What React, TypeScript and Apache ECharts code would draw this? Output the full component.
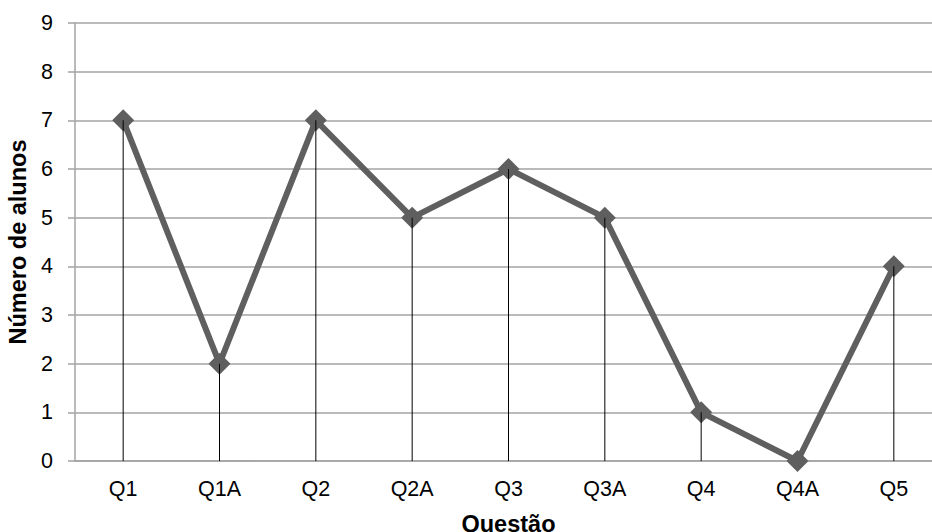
import React, { useEffect, useRef } from "react";
import * as echarts from "echarts";

const questions = ["Q1", "Q1A", "Q2", "Q2A", "Q3", "Q3A", "Q4", "Q4A", "Q5"];
const studentCounts = [7, 2, 7, 5, 6, 5, 1, 0, 4];
const yTicks = { min: 0, max: 9, interval: 1 };

const FONT = "'Liberation Sans', Arial, sans-serif";
const GRID_GRAY = "#a3a3a3";
const LINE_GRAY = "#5f5f5f";
const LABEL_SIZE = 21.5;
const TITLE_SIZE = 23.5;

export default function App() {
  const ref = useRef<HTMLDivElement>(null);

  useEffect(() => {
    document.body.style.margin = "0";
    if (!ref.current) return;
    const chart = echarts.init(ref.current, undefined, { renderer: "svg" });
    chart.setOption({
      animation: false,
      backgroundColor: "#ffffff",
      grid: { left: 75, right: -10, top: 23, bottom: 71, outerBoundsMode: "none", containLabel: false },
      xAxis: {
        type: "category",
        data: questions,
        boundaryGap: true,
        name: "Questão",
        nameLocation: "middle",
        nameGap: 51,
        nameTextStyle: { fontFamily: FONT, fontSize: TITLE_SIZE, fontWeight: "bold", color: "#000" },
        axisLine: { lineStyle: { color: GRID_GRAY, width: 1.5 } },
        axisTick: { show: false },
        axisLabel: { fontFamily: FONT, fontSize: LABEL_SIZE, color: "#000", margin: 17 },
        splitLine: { show: false },
      },
      yAxis: {
        type: "value",
        min: yTicks.min,
        max: yTicks.max,
        interval: yTicks.interval,
        name: "Número de alunos",
        nameLocation: "middle",
        nameGap: 40,
        nameTextStyle: { fontFamily: FONT, fontSize: TITLE_SIZE, fontWeight: "bold", color: "#000" },
        axisLine: { show: true, lineStyle: { color: GRID_GRAY, width: 1.5 } },
        axisTick: { show: true, length: 7, lineStyle: { color: GRID_GRAY, width: 1.5 } },
        axisLabel: { fontFamily: FONT, fontSize: LABEL_SIZE, color: "#000", margin: 22 },
        splitLine: { show: true, lineStyle: { color: GRID_GRAY, width: 1.5 } },
      },
      series: [
        {
          type: "line",
          data: studentCounts,
          z: 2,
          symbol: "diamond",
          symbolSize: 22,
          itemStyle: { color: LINE_GRAY },
          lineStyle: { color: LINE_GRAY, width: 6 },
        },
        {
          // drop lines from each point down to the category axis
          type: "bar",
          data: studentCounts,
          z: 3,
          barWidth: 1,
          itemStyle: { color: "#000000" },
          silent: true,
        },
      ],
    });
    return () => chart.dispose();
  }, []);

  return <div ref={ref} style={{ width: 932, height: 532 }} />;
}
